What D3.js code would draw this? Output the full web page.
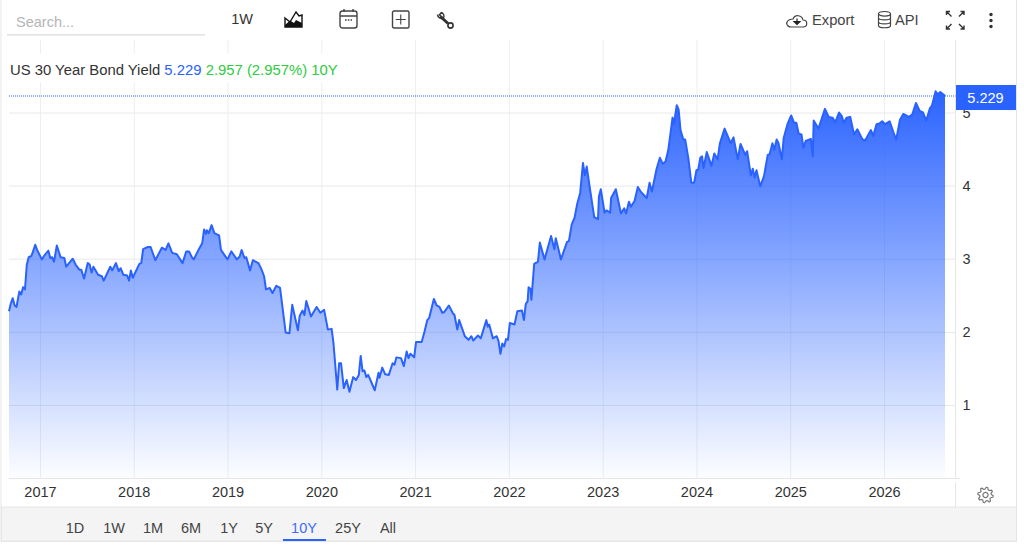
<!DOCTYPE html>
<html>
<head>
<meta charset="utf-8">
<script src="https://cdn.jsdelivr.net/npm/d3@7"></script>
<style>
html, body { margin: 0; padding: 0; background: #fff; }
svg { display: block; font-family: "Liberation Sans", Arial, sans-serif; }
</style>
</head>
<body>
<script>
//Data
const years = [
2016.67,2016.69,2016.71,2016.73,2016.75,2016.78,2016.80,2016.82,2016.84,2016.86,2016.88,2016.91,2016.95,2016.97,
2017.02,2017.05,2017.09,2017.11,2017.13,2017.15,2017.18,2017.22,2017.26,2017.28,2017.35,2017.38,2017.42,2017.44,2017.47,2017.51,2017.53,2017.55,2017.57,2017.62,2017.66,2017.68,2017.75,2017.77,2017.81,2017.84,2017.86,2017.89,2017.93,2017.95,2017.97,2017.99,
2018.06,2018.08,2018.10,2018.15,2018.18,2018.23,2018.30,2018.34,2018.37,2018.41,2018.46,2018.52,2018.56,2018.59,2018.62,2018.64,2018.69,2018.73,2018.75,2018.77,2018.78,2018.80,2018.83,2018.86,2018.91,2018.93,
2019.00,2019.04,2019.10,2019.13,2019.15,2019.18,2019.20,2019.24,2019.27,2019.33,2019.36,2019.39,2019.41,2019.45,2019.48,2019.52,2019.56,2019.62,2019.66,2019.69,2019.75,2019.77,2019.80,2019.82,2019.84,2019.89,2019.95,2019.99,
2020.03,2020.07,2020.11,2020.13,2020.17,2020.19,2020.21,2020.24,2020.27,2020.30,2020.34,2020.37,2020.40,2020.42,2020.44,2020.46,2020.48,2020.50,2020.53,2020.57,2020.61,2020.62,2020.65,2020.68,2020.72,2020.76,2020.78,2020.80,2020.85,2020.88,2020.91,2020.93,2020.95,2020.99,
2021.01,2021.07,2021.10,2021.13,2021.15,2021.20,2021.23,2021.26,2021.29,2021.31,2021.36,2021.40,2021.42,2021.45,2021.47,2021.53,2021.57,2021.60,2021.62,2021.67,2021.70,2021.76,2021.775,2021.79,2021.83,2021.87,2021.89,2021.91,2021.93,2021.95,2021.97,2021.99,
2022.01,2022.06,2022.09,2022.14,2022.16,2022.18,2022.20,2022.21,2022.23,2022.24,2022.27,2022.31,2022.33,2022.38,2022.45,2022.485,2022.50,2022.555,2022.62,2022.64,2022.67,2022.70,2022.73,2022.76,2022.79,2022.81,2022.83,2022.865,2022.91,2022.95,2022.96,2022.98,
2023.02,2023.04,2023.08,2023.09,2023.14,2023.195,2023.23,2023.25,2023.28,2023.30,2023.34,2023.375,2023.41,2023.47,2023.50,2023.525,2023.575,2023.61,2023.64,2023.67,2023.70,2023.745,2023.76,2023.79,2023.81,2023.83,2023.86,2023.88,2023.915,2023.945,2023.975,
2024.00,2024.02,2024.04,2024.06,2024.075,2024.11,2024.16,2024.19,2024.225,2024.25,2024.30,2024.365,2024.395,2024.44,2024.47,2024.52,2024.54,2024.58,2024.60,2024.62,2024.64,2024.68,2024.72,2024.76,2024.78,2024.81,2024.83,2024.855,2024.875,2024.91,2024.93,2024.97,
2025.01,2025.04,2025.065,2025.09,2025.12,2025.14,2025.165,2025.22,2025.24,2025.25,2025.30,2025.37,2025.41,2025.45,2025.48,2025.52,2025.55,2025.57,2025.60,2025.64,2025.68,2025.715,2025.77,2025.80,2025.86,2025.885,2025.92,2025.95,2025.98,
2026.01,2026.06,2026.10,2026.13,2026.17,2026.205,2026.265,2026.30,2026.34,2026.38,2026.415,2026.45,2026.49,2026.51,2026.55,2026.57,2026.60,2026.65
];
const yields = [
2.28,2.39,2.46,2.36,2.34,2.55,2.51,2.61,2.58,2.92,3.02,3.04,3.19,3.12,
2.99,3.05,3.11,3.01,3.02,2.96,3.18,3.02,3.01,2.89,3.00,2.92,2.85,2.85,2.73,2.94,2.92,2.81,2.89,2.78,2.76,2.70,2.89,2.84,2.94,2.83,2.87,2.78,2.77,2.70,2.84,2.74,
2.93,2.94,3.13,3.16,3.16,2.98,3.15,3.12,3.21,3.08,3.06,2.94,3.10,3.10,3.02,2.99,3.12,3.21,3.40,3.34,3.39,3.35,3.46,3.35,3.32,3.12,
2.99,3.10,2.99,3.03,3.12,3.01,3.02,2.84,2.98,2.94,2.86,2.76,2.58,2.60,2.53,2.63,2.60,1.99,1.98,2.37,2.02,2.22,2.29,2.23,2.42,2.21,2.34,2.26,
2.30,2.03,2.04,1.84,1.21,1.57,1.57,1.23,1.34,1.18,1.38,1.34,1.41,1.67,1.46,1.47,1.38,1.41,1.32,1.20,1.44,1.37,1.51,1.42,1.41,1.57,1.55,1.65,1.64,1.53,1.73,1.64,1.70,1.65,
1.86,1.86,2.00,2.16,2.19,2.45,2.36,2.34,2.26,2.27,2.36,2.26,2.23,2.03,2.16,1.94,1.89,1.94,1.88,1.95,1.91,2.16,2.07,2.10,1.91,1.94,1.87,1.70,1.84,1.80,1.90,1.89,
2.12,2.10,2.28,2.29,2.16,2.38,2.42,2.61,2.59,2.44,2.93,2.96,3.22,2.99,3.31,3.13,3.28,2.99,3.23,3.24,3.47,3.56,3.76,3.90,4.31,4.14,4.26,3.95,3.57,3.54,3.85,3.95,
3.63,3.66,3.63,3.83,3.95,3.62,3.69,3.62,3.78,3.71,3.79,3.98,3.91,3.83,4.04,3.92,4.23,4.38,4.30,4.33,4.49,4.93,4.84,5.10,5.04,4.76,4.63,4.63,4.36,4.04,4.04,
4.21,4.22,4.38,4.40,4.24,4.46,4.27,4.44,4.36,4.58,4.78,4.58,4.66,4.36,4.57,4.42,4.47,4.14,4.23,4.11,4.21,3.99,4.13,4.42,4.43,4.58,4.49,4.63,4.58,4.36,4.65,4.84,
4.96,4.86,4.86,4.71,4.70,4.52,4.61,4.64,4.40,4.89,4.78,5.05,4.94,4.93,4.87,5.00,4.95,4.86,4.93,4.94,4.70,4.77,4.63,4.62,4.76,4.68,4.84,4.85,4.88,
4.84,4.88,4.73,4.63,4.90,4.98,4.94,4.97,5.13,5.02,5.00,4.89,5.06,5.09,5.29,5.25,5.28,5.229
];
const yearTicks = [2017, 2018, 2019, 2020, 2021, 2022, 2023, 2024, 2025, 2026];
const yieldTicks = [1, 2, 3, 4, 5];
const rangeLabels = ["1D", "1W", "1M", "6M", "1Y", "5Y", "10Y", "25Y", "All"];
const rangeCenters = [75, 114, 153, 191, 229, 264, 304, 348, 388];

//Settings
var width = 1024;
var height = 560;
var plotLeft = 9;
var plotRight = 945;
var axisX = 955.5;
var plotTop = 40;
var plotBottom = 478;
var blue = "#2962ff";
var dark = "#333333";

var svg = d3.select("body").append("svg").attr("width", width).attr("height", height);

var x = d3.scaleLinear().domain([2016.67, 2026.65]).range([plotLeft, plotRight]);
var y = d3.scaleLinear().domain([0, 5]).range([plotBottom, 112.5]);
var points = years.map((d, i) => ({year: d, value: yields[i]}));

//Frame
svg.append("rect").attr("x", 1).attr("y", -2).attr("width", 1015.5).attr("height", 543.5).attr("fill", "#fff").attr("stroke", "#e6e6e6");

//Gradient
var grad = svg.append("defs").append("linearGradient").attr("id", "areaFill")
    .attr("gradientUnits", "userSpaceOnUse").attr("x1", 0).attr("x2", 0).attr("y1", y(5.229)).attr("y2", plotBottom);
grad.append("stop").attr("offset", 0).attr("stop-color", blue).attr("stop-opacity", 0.98);
grad.append("stop").attr("offset", 1).attr("stop-color", blue).attr("stop-opacity", 0.01);

//Grid
var gridX = svg.append("g").attr("transform", "translate(0," + plotBottom + ")")
    .call(d3.axisBottom(x).tickValues(yearTicks).tickSize(-(plotBottom - plotTop)).tickFormat(d3.format("d")));
gridX.select(".domain").remove();
gridX.selectAll("line").attr("stroke", "#e9eff5");
gridX.selectAll("text").attr("y", 19).attr("dy", 0).attr("font-size", 14.5).attr("font-family", "Liberation Sans").attr("fill", dark);

var gridY = svg.append("g").attr("transform", "translate(" + axisX + ",0)")
    .call(d3.axisRight(y).tickValues(yieldTicks).tickSize(0).tickPadding(7).tickFormat(d3.format("d")));
gridY.select(".domain").remove();
gridY.selectAll("text").attr("font-size", 14.5).attr("font-family", "Liberation Sans").attr("fill", dark).attr("dy", "0.34em");
gridY.selectAll(".tick").append("line").attr("x1", plotLeft - axisX).attr("x2", 0).attr("stroke", "#e8e8e8");

//Title background cuts the vertical lines
svg.append("rect").attr("x", 5).attr("y", 54).attr("width", 335).attr("height", 28).attr("fill", "#fff");

//Axis lines
svg.append("line").attr("x1", plotLeft).attr("x2", 960).attr("y1", plotBottom + 0.5).attr("y2", plotBottom + 0.5).attr("stroke", "#e6e6e6");
svg.append("line").attr("x1", axisX).attr("x2", axisX).attr("y1", plotTop).attr("y2", plotBottom).attr("stroke", "#e6e6e6");
svg.append("line").attr("x1", axisX).attr("x2", axisX).attr("y1", 482).attr("y2", 507).attr("stroke", "#e6e6e6");

//Area + line
var area = d3.area().x(d => x(d.year)).y0(plotBottom).y1(d => y(d.value));
var line = d3.line().x(d => x(d.year)).y(d => y(d.value));
svg.append("path").datum(points).attr("d", area).attr("fill", "url(#areaFill)");
svg.append("path").datum(points).attr("d", line).attr("fill", "none").attr("stroke", blue).attr("stroke-width", 2).attr("stroke-linejoin", "round");

//Last value
svg.append("line").attr("x1", plotLeft).attr("x2", axisX).attr("y1", 96).attr("y2", 96).attr("stroke", blue).attr("stroke-dasharray", "1,1");
svg.append("rect").attr("x", 956).attr("y", 85).attr("width", 60).attr("height", 25).attr("fill", blue);
svg.append("text").attr("x", 985.5).attr("y", 103).attr("text-anchor", "middle").attr("font-size", 14.5).attr("fill", "#fff").text("5.229");

//Title
var title = svg.append("text").attr("x", 10).attr("y", 74.5).attr("font-size", 14.85).attr("fill", dark);
title.append("tspan").text("US 30 Year Bond Yield ");
title.append("tspan").attr("fill", blue).text("5.229 ");
title.append("tspan").attr("fill", "#2ecc40").text("2.957 (2.957%) 10Y");

//Top toolbar
svg.append("text").attr("x", 16).attr("y", 27).attr("font-size", 14.5).attr("fill", "#b5b5b5").text("Search...");
svg.append("rect").attr("x", 7).attr("y", 34).attr("width", 198).attr("height", 1.5).attr("fill", "#e2e2e2");
svg.append("text").attr("x", 242).attr("y", 24).attr("text-anchor", "middle").attr("font-size", 14.5).attr("fill", dark).text("1W");

var iconColor = "#444";
//Area type icon
var ic = svg.append("g").attr("transform", "translate(284,10)");
ic.append("path").attr("d", "M1 8 L6 12 L12 2 L15 6 L18 5 L18 17 L1 17 Z").attr("fill", "none").attr("stroke", "#111").attr("stroke-width", 1.4);
ic.append("path").attr("d", "M1 17 L1 15 L6 10.5 L10 13 L12 10 L18 13 L18 17 Z").attr("fill", "#111");
//Calendar
var cal = svg.append("g").attr("transform", "translate(339,9)").attr("fill", "none").attr("stroke", iconColor).attr("stroke-width", 1.4);
cal.append("rect").attr("x", 1).attr("y", 2).attr("width", 17).attr("height", 17).attr("rx", 2.5);
cal.append("path").attr("d", "M1 7 H18 M5 0 V3 M14 0 V3");
cal.append("path").attr("d", "M6 11 H13").attr("stroke-dasharray", "1.6,1.2").attr("stroke-width", 1.6);
//Plus box
var pl = svg.append("g").attr("transform", "translate(392,11)").attr("fill", "none").attr("stroke", iconColor);
pl.append("rect").attr("x", 0.5).attr("y", 0).attr("width", 16.5).attr("height", 17).attr("rx", 1.5).attr("stroke-width", 1.4);
pl.append("path").attr("d", "M8.75 3.5 V13.5 M3.75 8.5 H13.75").attr("stroke-width", 1.1);
//Wrench
var wr = svg.append("g").attr("transform", "translate(437,12)").attr("fill", "none").attr("stroke", "#333");
wr.append("path").attr("d", "M3.5 4.5 L11 11.5").attr("stroke-width", 3);
wr.append("path").attr("d", "M4.5 0.5 L2.5 2.8 L4.5 5 M0.5 2.5 A4.2 4.2 0 0 0 6.5 6 M4.5 0.5 A4.2 4.2 0 0 1 6.5 6").attr("stroke-width", 1.5);
wr.append("circle").attr("cx", 13.5).attr("cy", 13.5).attr("r", 2.6).attr("stroke-width", 1.6);
//Export
var ex = svg.append("g").attr("transform", "translate(786,12)");
ex.append("path").attr("d", "M5 15 H17 C22 15 22 8 17 8 C16 3 9 2 7 7 C2 7 0 10 1 12.5 C1.8 14.2 3 15 5 15 Z").attr("fill", "none").attr("stroke", iconColor).attr("stroke-width", 1.2);
ex.append("path").attr("d", "M11 6.5 V10 M8 9.5 L11 12.5 L14 9.5 Z").attr("fill", "#222").attr("stroke", "#222").attr("stroke-width", 1.2);
svg.append("text").attr("x", 812).attr("y", 25).attr("font-size", 14.7).attr("fill", "#444").text("Export");
//API database
var db = svg.append("g").attr("transform", "translate(878,11)").attr("fill", "none").attr("stroke", iconColor).attr("stroke-width", 1.2);
db.append("ellipse").attr("cx", 6.5).attr("cy", 2.8).attr("rx", 6).attr("ry", 2.3);
db.append("path").attr("d", "M0.5 2.8 V14.5 C0.5 17.5 12.5 17.5 12.5 14.5 V2.8 M0.5 6.8 C0.5 9.6 12.5 9.6 12.5 6.8 M0.5 10.8 C0.5 13.6 12.5 13.6 12.5 10.8");
svg.append("text").attr("x", 895).attr("y", 25).attr("font-size", 14.7).attr("fill", "#444").text("API");
//Fullscreen
var fs = svg.append("g").attr("transform", "translate(946,11)").attr("fill", "none").attr("stroke", "#333").attr("stroke-width", 1.4);
fs.append("path").attr("d", "M0.5 4 V0.5 H4 M1 1 L5.5 5.5 M18 4 V0.5 H14.5 M17.5 1 L13 5.5 M0.5 14.5 V18 H4 M1 17.5 L5.5 13 M18 14.5 V18 H14.5 M17.5 17.5 L13 13");
//Menu dots
svg.selectAll(".dot").data([14.5, 20.5, 26.5]).join("circle").attr("class", "dot").attr("cx", 991).attr("cy", d => d).attr("r", 1.7).attr("fill", "#333");

//Gear
var gear = svg.append("g").attr("transform", "translate(985.5,495)").attr("fill", "none").attr("stroke", "#777").attr("stroke-width", 1.2);
gear.append("circle").attr("r", 2.6);
gear.append("path").attr("d", d3.range(32).map(i => {
    var a = (i * 11.25 + 5.6) * Math.PI / 180;
    var r = (i % 4 < 2) ? 7.8 : 5.8;
    return (i ? "L" : "M") + (r * Math.cos(a)).toFixed(2) + " " + (r * Math.sin(a)).toFixed(2);
}).join(" ") + " Z").attr("stroke-linejoin", "round");

//Bottom toolbar
svg.append("rect").attr("x", 1.5).attr("y", 507).attr("width", 1015).attr("height", 34).attr("fill", "#f4f4f4").attr("stroke", "#e6e6e6");
svg.selectAll(".range").data(rangeLabels).join("text").attr("class", "range")
    .attr("x", (d, i) => rangeCenters[i]).attr("y", 533).attr("text-anchor", "middle").attr("font-size", 14.5)
    .attr("fill", d => d === "10Y" ? "#3f6bff" : "#444").text(d => d);
svg.append("rect").attr("x", 283).attr("y", 539).attr("width", 43).attr("height", 2).attr("fill", blue);
</script>
</body>
</html>
